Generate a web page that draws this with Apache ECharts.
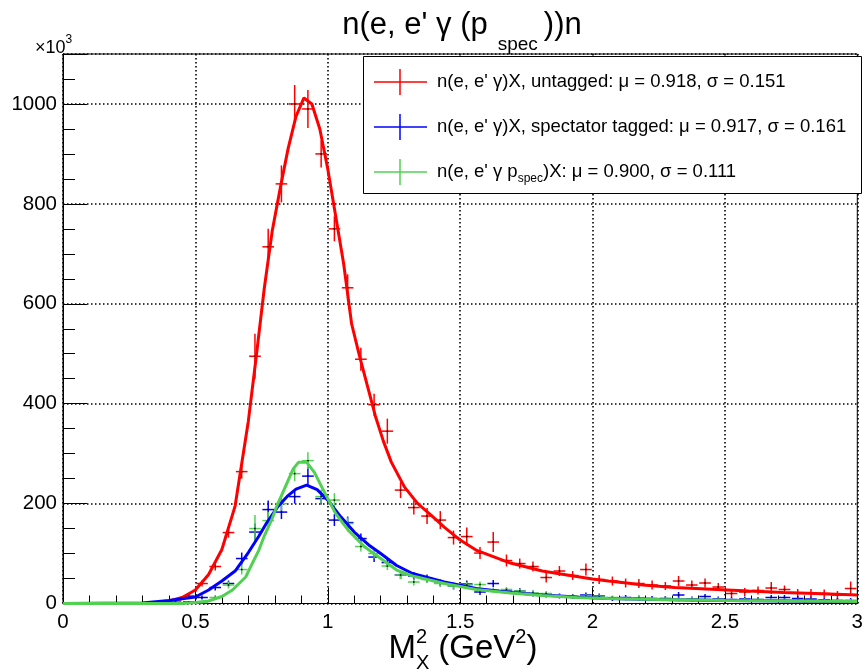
<!DOCTYPE html>
<html>
<head>
<meta charset="utf-8">
<script src="https://cdn.jsdelivr.net/npm/echarts@6/dist/echarts.min.js"></script>
<style>
  html, body { margin: 0; padding: 0; background: #fff; }
  #main { width: 866px; height: 672px; }
</style>
</head>
<body>
<div id="main"></div>
<script>
// bin centres of the M_X^2 histogram (GeV^2)
const binCenters = [0.025, 0.075, 0.125, 0.175, 0.225, 0.275, 0.325, 0.375, 0.425, 0.475,
  0.525, 0.575, 0.625, 0.675, 0.725, 0.775, 0.825, 0.875, 0.925, 0.975,
  1.025, 1.075, 1.125, 1.175, 1.225, 1.275, 1.325, 1.375, 1.425, 1.475,
  1.525, 1.575, 1.625, 1.675, 1.725, 1.775, 1.825, 1.875, 1.925, 1.975,
  2.025, 2.075, 2.125, 2.175, 2.225, 2.275, 2.325, 2.375, 2.425, 2.475,
  2.525, 2.575, 2.625, 2.675, 2.725, 2.775, 2.825, 2.875, 2.925, 2.975]

// counts (x10^3) and errors, untagged
const untagged = [null, null, null, null, null, null, null, null, 5, 15,
  40, 74, 142, 264, 495, 714, 840, 1000, 990, 900,
  750, 632, 489, 398, 345, 227, 192, 175, 167, 132,
  134, 101, 123, 86, 80, 74, 52, 65, 56, 68,
  48, 45, 41, 40, 37, 35, 45, 37, 41, 33,
  20, 23, 26, 31, 28, 21, 21, 20, 17, 30]
const untaggedErr = [null, null, null, null, null, null, null, null, 3, 5,
  6, 8, 10, 14, 45, 36, 37, 38, 38, 27,
  25, 27, 23, 22, 25, 16, 14, 16, 18, 14,
  18, 12, 20, 12, 10, 10, 10, 10, 9, 12,
  9, 9, 9, 9, 9, 8, 10, 9, 9, 8,
  7, 8, 8, 12, 8, 8, 8, 8, 8, 14]

// spectator tagged
const tagged = [null, null, null, null, null, null, null, null, null, 3,
  12, 32, 40, 90, 143, 188, 183, 214, 255, 210,
  167, 162, 130, 93, 82, 57, 55, 50, 41, 35,
  39, 23, 40, 25, 25, 20, 17, 15, 14, 17,
  15, 10, 12, 11, 10, 10, 17, 9, 14, 9,
  8, 9, 8, 12, 12, 10, 9, 7, 6, 6]
const taggedErr = [null, null, null, null, null, null, null, null, null, 2,
  4, 6, 6, 12, 17, 18, 14, 14, 18, 12,
  12, 12, 10, 10, 9, 8, 8, 8, 7, 7,
  7, 6, 7, 6, 6, 6, 5, 5, 5, 5,
  5, 5, 5, 5, 5, 5, 6, 5, 5, 5,
  5, 5, 5, 5, 5, 5, 5, 5, 5, 5]

// n(e, e' gamma p_spec)X
const pspec = [null, null, null, null, null, null, null, null, null, null,
  2, 12, 37, 68, 150, 166, 200, 260, 286, 214,
  207, 160, 114, 100, 75, 57, 43, 48, 40, 35,
  37, 38, 27, 28, 25, 21, 20, 15, 14, 15,
  14, 12, 10, 11, 9, 10, 8, 9, 8, 8,
  7, 7, 8, 7, 6, 6, 6, 5, 5, 5]
const pspecErr = [null, null, null, null, null, null, null, null, null, null,
  2, 5, 7, 10, 27, 17, 14, 15, 17, 14,
  14, 12, 10, 10, 8, 8, 7, 7, 6, 6,
  6, 6, 5, 5, 5, 5, 5, 4, 4, 4,
  4, 4, 4, 4, 4, 4, 4, 4, 4, 4,
  4, 4, 4, 4, 4, 4, 4, 4, 4, 4]

// fit curves
const untaggedFitX = [0, 0.3, 0.35, 0.4, 0.45, 0.5, 0.55, 0.6, 0.65, 0.7, 0.73, 0.76, 0.79, 0.82, 0.85, 0.88, 0.91, 0.94, 0.97, 1.0,
  1.03, 1.06, 1.09, 1.12, 1.15, 1.18, 1.21, 1.24, 1.29, 1.34, 1.39, 1.44, 1.5, 1.56, 1.63, 1.69, 1.75, 1.81, 1.88, 1.94,
  2.0, 2.06, 2.13, 2.19, 2.31, 2.47, 2.59, 2.72, 2.84, 3.0]
const untaggedFitY = [0, 0, 1, 5, 12, 27, 58, 108, 195, 365, 495, 630, 745, 830, 910, 975, 1012, 1000, 950, 870,
  775, 680, 560, 495, 435, 375, 325, 283, 233, 200, 177, 153, 127, 107, 93, 81, 73, 65, 59, 54,
  49, 45, 41, 37, 32, 28, 25, 22, 20, 17]

const taggedFitX = [0, 0.3, 0.4, 0.5, 0.55, 0.6, 0.65, 0.7, 0.74, 0.77, 0.81, 0.85, 0.88, 0.92, 0.96, 1.0, 1.05, 1.1, 1.16, 1.2,
  1.26, 1.32, 1.44, 1.56, 1.69, 1.81, 1.94, 2.06, 2.25, 2.5, 2.75, 3.0]
const taggedFitY = [0, 1, 6, 13, 27, 45, 65, 102, 135, 162, 193, 216, 229, 237, 228, 207, 173, 143, 115, 100,
  76, 60, 43, 30, 22, 17, 13, 10, 8, 6, 5, 4]

const pspecFitX = [0, 0.45, 0.5, 0.55, 0.6, 0.64, 0.69, 0.71, 0.74, 0.76, 0.79, 0.81, 0.85, 0.87, 0.89, 0.92, 0.95, 0.99, 1.03, 1.08,
  1.14, 1.2, 1.26, 1.32, 1.44, 1.56, 1.69, 1.81, 1.94, 2.06, 2.25, 2.5, 2.75, 3.0]
const pspecFitY = [0, 0, 2, 5, 14, 27, 53, 75, 107, 135, 170, 198, 246, 270, 283, 283, 262, 220, 180, 145,
  113, 90, 67, 55, 40, 28, 21, 16, 12, 10, 8, 6, 5, 4]

// text pieces: [text, font size, vertical shift, no advance, gap after]
const legendLabels = [
  [['n(e, e\' γ)X, untagged: μ = 0.918, σ = 0.151', 18.5, 0]],
  [['n(e, e\' γ)X, spectator tagged: μ = 0.917, σ = 0.161', 18.5, 0]],
  [['n(e, e\' γ p', 18.5, 0], ['spec', 12, 7], [')X: μ = 0.900, σ = 0.111', 18.5, 0]]
]
const titleParts = [['n(e, e\' γ (p', 31, 0, false, 10], ['spec', 19, 20, false, 6], ['))n', 31, 0]]
const xTitleParts = [['M', 33, 0], ['X', 20, 14, true], ['2', 20, -12, false, 2], [' (GeV', 33, 0], ['2', 20, -12], [')', 33, 0]]
const yExpParts = [['×10', 18, 0], ['3', 12, -8]]

const RED = '#ff0000'
const BLUE = '#0000ff'
const GREEN = '#52d052'
const FONT = '"Liberation Sans", Arial, sans-serif'

const measureCtx = document.createElement('canvas').getContext('2d')
function textWidth (t, size) {
  measureCtx.font = size + 'px ' + FONT
  return measureCtx.measureText(t).width
}

// lay out text pieces in a row
function textRun (x, y, parts, anchor) {
  let total = 0
  parts.forEach(p => { if (!p[3]) total += textWidth(p[0], p[1]) + (p[4] || 0) })
  let cx = anchor === 'center' ? x - total / 2 : x
  const els = []
  parts.forEach(p => {
    els.push({
      type: 'text', x: cx, y: y + p[2], z: 110,
      style: { text: p[0], fontSize: p[1], fontFamily: FONT, fill: '#000', align: 'left', verticalAlign: 'middle' }
    })
    if (!p[3]) cx += textWidth(p[0], p[1]) + (p[4] || 0)
  })
  return els
}

function points (vals, errs) {
  const out = []
  for (let i = 0; i < binCenters.length; i++) {
    if (vals[i] !== null) out.push([binCenters[i], vals[i], errs[i]])
  }
  return out
}

function zip (xs, ys) {
  return xs.map((x, i) => [x, ys[i]])
}

function errorBars (color) {
  return function (params, api) {
    const x = api.value(0)
    const y = api.value(1)
    const e = api.value(2)
    const c = api.coord([x, y])
    const hi = api.coord([x, y + e])
    const lo = api.coord([x, Math.max(0, y - e)])
    const l = api.coord([x - 0.022, y])
    const r = api.coord([x + 0.022, y])
    return {
      type: 'group',
      children: [
        { type: 'line', shape: { x1: c[0], y1: hi[1], x2: c[0], y2: lo[1] }, style: { stroke: color, lineWidth: 1.5 } },
        { type: 'line', shape: { x1: l[0], y1: c[1], x2: r[0], y2: c[1] }, style: { stroke: color, lineWidth: 1.5 } },
        { type: 'rect', shape: { x: c[0] - 0.75, y: c[1] - 0.75, width: 1.5, height: 1.5 }, style: { fill: '#000' } }
      ]
    }
  }
}

function fitLine (data, color, z) {
  return {
    type: 'line',
    data: data,
    showSymbol: false,
    symbol: 'none',
    smooth: false,
    z: z,
    lineStyle: { color: color, width: 3 },
    silent: true,
    animation: false
  }
}

// legend box drawn by hand in ROOT style
const legendRows = [82, 127, 172]
const legendColors = [RED, BLUE, GREEN]
let graphics = [
  { type: 'rect', z: 100, shape: { x: 363.5, y: 56.5, width: 498, height: 137 }, style: { fill: '#fff', stroke: '#000', lineWidth: 1 } }
]
legendRows.forEach((ry, i) => {
  graphics.push({ type: 'line', z: 105, shape: { x1: 374, y1: ry, x2: 427, y2: ry }, style: { stroke: legendColors[i], lineWidth: 1.5 } })
  graphics.push({ type: 'line', z: 105, shape: { x1: 400, y1: ry - 13, x2: 400, y2: ry + 13 }, style: { stroke: legendColors[i], lineWidth: 1.5 } })
  graphics = graphics.concat(textRun(437, ry, legendLabels[i], 'left'))
})

// title, axis title and exponent
graphics = graphics.concat(textRun(462, 25, titleParts, 'center'))
graphics = graphics.concat(textRun(35, 48, yExpParts, 'left'))
graphics = graphics.concat(textRun(463, 649, xTitleParts, 'center'))

const chart = echarts.init(document.getElementById('main'), null, { renderer: 'canvas' })

chart.setOption({
  animation: false,
  backgroundColor: '#fff',
  grid: {
    left: 63, right: 3, top: 54, bottom: 68.5,
    show: true, borderColor: '#000', borderWidth: 1, backgroundColor: 'transparent'
  },
  xAxis: {
    type: 'value', min: 0, max: 3, interval: 0.5,
    axisLine: { lineStyle: { color: '#000', width: 1 } },
    axisTick: { inside: true, length: 16, lineStyle: { color: '#000' } },
    minorTick: { show: true, splitNumber: 5, length: 8, lineStyle: { color: '#000' } },
    splitLine: { show: true, lineStyle: { color: '#000', type: [1.5, 2.5], width: 1.6 } },
    axisLabel: { color: '#000', fontSize: 20.5, fontFamily: FONT, margin: 8, formatter: v => String(v) }
  },
  yAxis: {
    type: 'value', min: 0, max: 1100, interval: 200,
    axisLine: { show: true, lineStyle: { color: '#000', width: 1 } },
    axisTick: { show: true, inside: true, length: 24, lineStyle: { color: '#000' } },
    minorTick: { show: true, splitNumber: 4, length: 12, lineStyle: { color: '#000' } },
    splitLine: { show: true, lineStyle: { color: '#000', type: [1.5, 2.5], width: 1.6 } },
    axisLabel: { color: '#000', fontSize: 20.5, fontFamily: FONT, margin: 6, showMaxLabel: false, formatter: v => String(v) }
  },
  graphic: graphics,
  series: [
    { type: 'custom', renderItem: errorBars(RED), data: points(untagged, untaggedErr), encode: { x: 0, y: 1 }, z: 3, silent: true },
    fitLine(zip(untaggedFitX, untaggedFitY), RED, 4),
    { type: 'custom', renderItem: errorBars(BLUE), data: points(tagged, taggedErr), encode: { x: 0, y: 1 }, z: 5, silent: true },
    { type: 'custom', renderItem: errorBars(GREEN), data: points(pspec, pspecErr), encode: { x: 0, y: 1 }, z: 5, silent: true },
    fitLine(zip(taggedFitX, taggedFitY), BLUE, 6),
    fitLine(zip(pspecFitX, pspecFitY), GREEN, 7)
  ]
})
</script>
</body>
</html>
